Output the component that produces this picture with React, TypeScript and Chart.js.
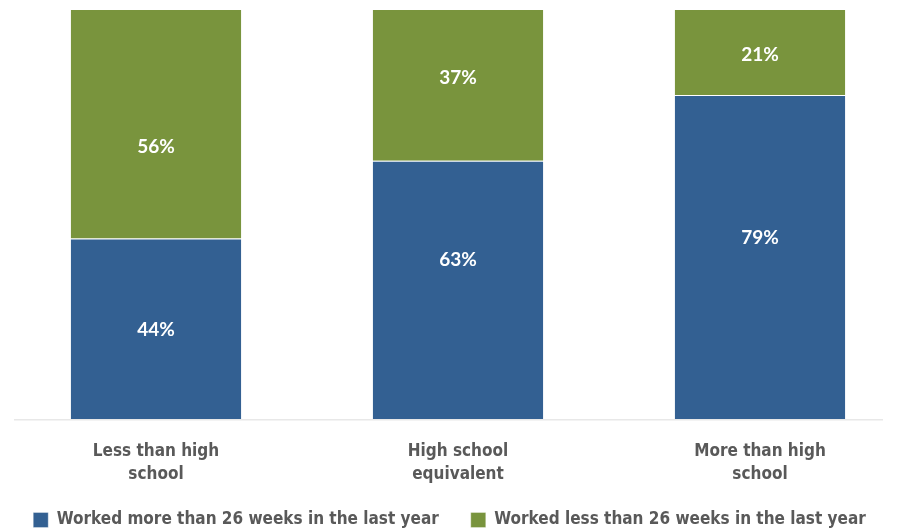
import React, { useEffect, useRef } from 'react';
import { Chart, registerables } from 'chart.js';

Chart.register(...registerables);

const categories: string[][] = [
  ['Less than high', 'school'],
  ['High school', 'equivalent'],
  ['More than high', 'school'],
];
const seriesNames = [
  'Worked more than 26 weeks in the last year',
  'Worked less than 26 weeks in the last year',
];
const workedMore = [44, 63, 79];
const workedLess = [56, 37, 21];
// where each value label sits, in percent units on the value axis
const labelAnchorMore = [21.7, 38.8, 44.1];
const labelAnchorLess = [66.4, 83.2, 88.8];

const BLUE = '#336092';
const GREEN = '#79943d';
const GRAY_TEXT = '#595959';
const NARROW = "'Liberation Sans Narrow', 'DejaVu Sans Condensed', sans-serif";

const valueLabels = {
  id: 'valueLabels',
  afterDatasetsDraw(chart: any) {
    const { ctx } = chart;
    const y = chart.scales.y;
    const anchors = [labelAnchorMore, labelAnchorLess];
    chart.data.datasets.forEach((ds: any, di: number) => {
      const meta = chart.getDatasetMeta(di);
      meta.data.forEach((bar: any, i: number) => {
        ctx.save();
        ctx.fillStyle = '#ffffff';
        ctx.font = "bold 19px Lato, 'Open Sans', sans-serif";
        ctx.textAlign = 'center';
        ctx.textBaseline = 'middle';
        ctx.fillText(ds.data[i] + '%', bar.x, y.getPixelForValue(anchors[di][i]));
        ctx.restore();
      });
    });
  },
};

const baseline = {
  id: 'baseline',
  beforeDatasetsDraw(chart: any) {
    const { ctx, chartArea, width } = chart;
    ctx.save();
    ctx.fillStyle = '#e8e8e8';
    ctx.fillRect(14, chartArea.bottom, width - 16 - 14, 1.5);
    ctx.restore();
  },
};

export default function App() {
  const ref = useRef<HTMLCanvasElement | null>(null);
  useEffect(() => {
    if (!ref.current) return;
    const chart = new Chart(ref.current, {
      type: 'bar',
      data: {
        labels: categories,
        datasets: [
          {
            label: seriesNames[0],
            data: workedMore,
            backgroundColor: BLUE,
            borderColor: 'rgba(255,255,255,0.35)',
            borderWidth: 1,
            clip: false,
          },
          {
            label: seriesNames[1],
            data: workedLess,
            backgroundColor: GREEN,
            borderColor: 'rgba(255,255,255,0.35)',
            borderWidth: 1,
            clip: false,
          },
        ],
      },
      options: {
        responsive: false,
        animation: false,
        layout: { padding: { top: 9, bottom: -6.5, left: 0, right: 0 } },
        datasets: {
          bar: { categoryPercentage: 1, barPercentage: 0.57 },
        },
        scales: {
          x: {
            stacked: true,
            offset: false,
            grid: { display: false, drawTicks: false },
            border: { display: false },
            ticks: {
              autoSkip: false,
              maxRotation: 0,
              minRotation: 0,
              padding: 21,
              color: GRAY_TEXT,
              font: { family: NARROW, size: 17, weight: 'bold', lineHeight: 1.35 },
            },
            afterFit: (scale: any) => {
              scale.height = 60.5;
              scale.paddingLeft = 156;
              scale.paddingRight = 139;
              // let two-line labels draw past the (shortened) axis box
              scale._computeLabelArea = () => undefined;
            },
          },
          y: {
            stacked: true,
            display: false,
            min: 0,
            max: 100,
          },
        },
        plugins: {
          legend: {
            position: 'bottom',
            labels: {
              boxWidth: 15,
              boxHeight: 15,
              padding: 32,
              color: GRAY_TEXT,
              font: { family: NARROW, size: 17, weight: 'bold' },
            },
          },
          tooltip: { enabled: false },
        },
      },
      plugins: [baseline, valueLabels],
    });
    return () => chart.destroy();
  }, []);
  return (
    <div style={{ position: 'absolute', left: 0, top: 0, width: 899, height: 532, background: '#fff' }}>
      <canvas ref={ref} width={899} height={532} />
    </div>
  );
}
